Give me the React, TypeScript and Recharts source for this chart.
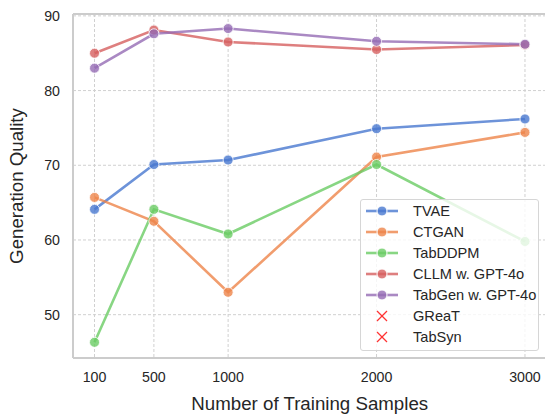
import React from "react";
import {
  LineChart,
  Line,
  XAxis,
  YAxis,
  CartesianGrid,
  ReferenceLine,
  Label,
} from "recharts";

const samples = [100, 500, 1000, 2000, 3000];
const tvae = [64.1, 70.1, 70.7, 74.9, 76.2];
const ctgan = [65.7, 62.5, 53.0, 71.1, 74.4];
const tabddpm = [46.3, 64.1, 60.8, 70.1, 59.8];
const cllm = [85.0, 88.1, 86.5, 85.5, 86.1];
const tabgen = [83.0, 87.6, 88.3, 86.6, 86.2];

const xTicks = [100, 500, 1000, 2000, 3000];
const yTicks = [50, 60, 70, 80, 90];

const series = [
  { key: "tvae", name: "TVAE", color: "#4878d0", values: tvae },
  { key: "ctgan", name: "CTGAN", color: "#ee854a", values: ctgan },
  { key: "tabddpm", name: "TabDDPM", color: "#6acc64", values: tabddpm },
  { key: "cllm", name: "CLLM w. GPT-4o", color: "#d65f5f", values: cllm },
  { key: "tabgen", name: "TabGen w. GPT-4o", color: "#956cb4", values: tabgen },
];
const missing = ["GReaT", "TabSyn"];

const data = samples.map((n, i) => {
  const row: Record<string, number> = { n };
  series.forEach((s) => (row[s.key] = s.values[i]));
  return row;
});

const FONT = "'Liberation Sans', Arial, Helvetica, sans-serif";
const SPINE = "#cccccc";
const Y_MAX = 90.25;
const X_MIN = -45;

function ChartLegend() {
  return (
    <div
      style={{
        position: "absolute",
        left: 360,
        top: 199,
        width: 179,
        height: 152,
        background: "rgba(255,255,255,0.8)",
        border: "1px solid #d6d6d6",
        borderRadius: 3,
        fontFamily: FONT,
        fontSize: 14.6,
        color: "#262626",
        boxSizing: "border-box",
        paddingTop: 0,
      }}
    >
      {series.map((s) => (
        <div key={s.key} style={{ display: "flex", alignItems: "center", height: 21.1 }}>
          <svg width={48} height={14} style={{ marginLeft: 4 }}>
            <line x1={1} y1={7} x2={33} y2={7} stroke={s.color} strokeWidth={2.6} strokeOpacity={0.8} />
            <circle cx={17} cy={7} r={5} fill={s.color} fillOpacity={0.8} stroke="#fff" strokeWidth={1} />
          </svg>
          <span>{s.name}</span>
        </div>
      ))}
      {missing.map((m) => (
        <div key={m} style={{ display: "flex", alignItems: "center", height: 21.1 }}>
          <svg width={48} height={14} style={{ marginLeft: 4 }}>
            <line x1={12} y1={2} x2={22} y2={12} stroke="#ff3333" strokeWidth={1.3} />
            <line x1={22} y1={2} x2={12} y2={12} stroke="#ff3333" strokeWidth={1.3} />
          </svg>
          <span>{m}</span>
        </div>
      ))}
    </div>
  );
}

export default function App() {
  return (
    <div style={{ position: "relative", width: 545, height: 418, overflow: "hidden", background: "#fff" }}>
      <style>{"body{margin:0}"}</style>
      <LineChart
        width={560}
        height={418}
        data={data}
        margin={{ top: 14, right: 13.5, bottom: 0, left: 0 }}
      >
        <CartesianGrid stroke="#d0d0d0" strokeDasharray="3 2" horizontalValues={yTicks} verticalValues={xTicks} />
        <XAxis
          dataKey="n"
          type="number"
          domain={[X_MIN, 3145]}
          ticks={xTicks}
          allowDataOverflow
          height={60}
          tickSize={0}
          tickMargin={14}
          axisLine={{ stroke: SPINE, strokeWidth: 2 }}
          tick={{ fill: "#262626", fontSize: 14.2, fontFamily: FONT }}
        >
          <Label
            content={({ viewBox }: any) => (
              <text
                x={viewBox.x + viewBox.width / 2}
                y={410}
                textAnchor="middle"
                fontSize={18.7}
                fontFamily={FONT}
                fill="#262626"
              >
                Number of Training Samples
              </text>
            )}
          />
        </XAxis>
        <YAxis
          type="number"
          domain={[44.2, Y_MAX]}
          ticks={yTicks}
          allowDataOverflow
          width={73}
          tickSize={0}
          tickMargin={13}
          axisLine={{ stroke: SPINE, strokeWidth: 2 }}
          tick={{ fill: "#262626", fontSize: 14.2, fontFamily: FONT }}
        >
          <Label
            content={({ viewBox }: any) => {
              const cy = viewBox.y + viewBox.height / 2;
              return (
                <text
                  x={23}
                  y={cy}
                  transform={`rotate(-90 23 ${cy})`}
                  textAnchor="middle"
                  fontSize={18.7}
                  fontFamily={FONT}
                  fill="#262626"
                >
                  Generation Quality
                </text>
              );
            }}
          />
        </YAxis>
        <ReferenceLine y={Y_MAX} stroke={SPINE} strokeWidth={2} />
        {series.map((s) => (
          <Line
            key={s.key}
            dataKey={s.key}
            name={s.name}
            type="linear"
            stroke={s.color}
            strokeOpacity={0.8}
            strokeWidth={2.6}
            dot={{ r: 5, fill: s.color, fillOpacity: 0.8, stroke: "#fff", strokeWidth: 1 }}
            activeDot={false}
            isAnimationActive={false}
          />
        ))}
      </LineChart>
      <ChartLegend />
    </div>
  );
}
